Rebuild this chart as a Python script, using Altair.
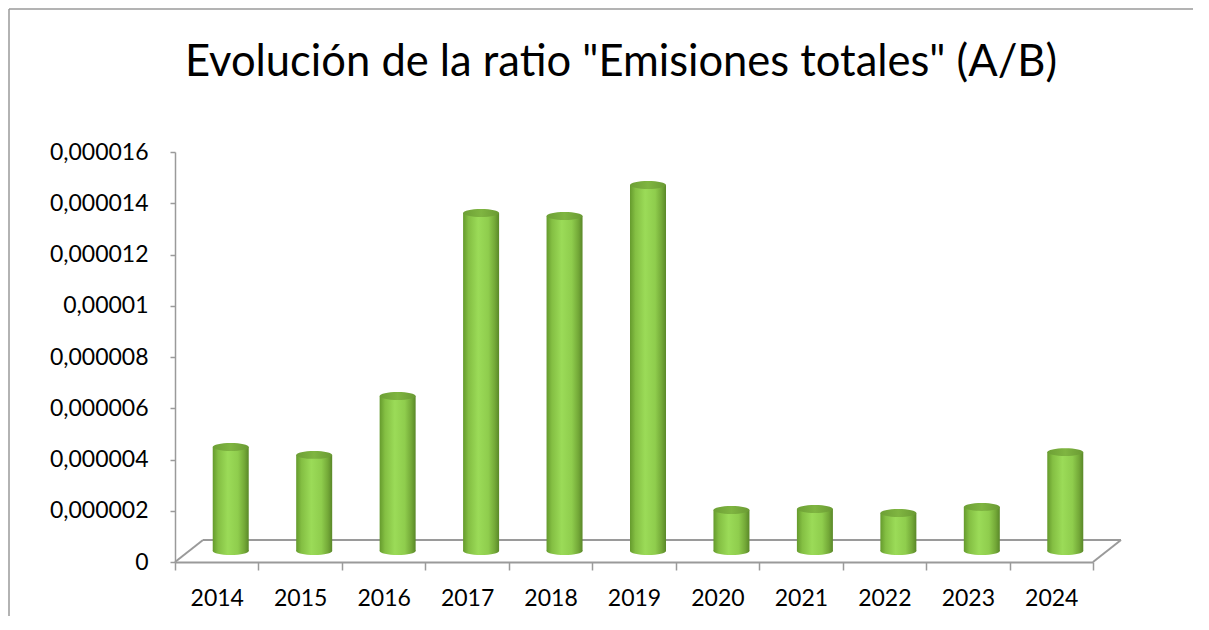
import altair as alt
import pandas as pd

# ---- data ----
years = ["2014", "2015", "2016", "2017", "2018", "2019", "2020", "2021", "2022", "2023", "2024"]
values = [4.06e-6, 3.75e-6, 6.05e-6, 13.19e-6, 13.07e-6, 14.28e-6,
          1.60e-6, 1.64e-6, 1.48e-6, 1.72e-6, 3.86e-6]
y_ticks = [0, 2e-6, 4e-6, 6e-6, 8e-6, 10e-6, 12e-6, 14e-6, 16e-6]
title_text = ['Evolución de la ratio "Emisiones totales" (A/B)']

df = pd.DataFrame({"year": years, "value": values})
one = pd.DataFrame({"k": [0]})

# ---- layout / style ----
W, H = 918, 410
DEPTH_X, DEPTH_Y = 28, 22      # 3D floor depth
MID_X, MID_Y = 14, 11          # bars sit in the middle of the floor depth
BAR_W = 36
FONT = "Lato"
GRAY = "#9a9a9a"

ELLIPSE = "M -1 0 A 1 0.22 0 1 1 1 0 A 1 0.22 0 1 1 -1 0 Z"

cyl = alt.Gradient(
    gradient="linear", x1=0, x2=1, y1=0, y2=0,
    stops=[
        alt.GradientStop(color="#659a2d", offset=0),
        alt.GradientStop(color="#84bf43", offset=0.15),
        alt.GradientStop(color="#9bdb58", offset=0.42),
        alt.GradientStop(color="#8fcd4d", offset=0.7),
        alt.GradientStop(color="#74a938", offset=0.88),
        alt.GradientStop(color="#5a8829", offset=1),
    ],
)
cap = alt.Gradient(
    gradient="linear", x1=0, x2=1, y1=0, y2=0,
    stops=[
        alt.GradientStop(color="#6d9f35", offset=0),
        alt.GradientStop(color="#7fb541", offset=0.5),
        alt.GradientStop(color="#6a9a33", offset=1),
    ],
)

x_axis = alt.Axis(
    title=None, labelAngle=0, tickBand="extent", tickSize=8,
    labelPadding=35, labelBaseline="alphabetic",
    labelFont=FONT, labelFontSize=23, labelColor="#000000",
    domainColor=GRAY, domainWidth=2, tickColor=GRAY, tickWidth=1.5,
)
y_axis = alt.Axis(
    title=None, values=y_ticks, grid=False, tickSize=5, labelPadding=22,
    labelExpr="replace(format(datum.value, '.6~f'), '.', ',')",
    labelFont=FONT, labelFontSize=23, labelColor="#000000",
    labelBaseline="middle",
    domainColor=GRAY, domainWidth=1.5, tickColor=GRAY, tickWidth=1.5,
)
x_scale = alt.Scale(paddingInner=0, paddingOuter=0)
y_scale = alt.Scale(domain=[0, 16e-6], nice=False, zero=True)

x_enc = alt.X("year:N", sort=years, scale=x_scale, axis=x_axis)
y_enc = alt.Y("value:Q", scale=y_scale, axis=y_axis)
zero_y = alt.Y(datum=0, type="quantitative", scale=y_scale, axis=y_axis)
zero_y2 = alt.Y2(datum=0)

# chart frame (top and left edges visible)
frame_top = alt.Chart(one).mark_rule(color=GRAY, strokeWidth=1.5).encode(
    x=alt.value(-166), x2=alt.value(W + 120), y=alt.value(-143))
frame_left = alt.Chart(one).mark_rule(color=GRAY, strokeWidth=1.5).encode(
    x=alt.value(-166), y=alt.value(-143), y2=alt.value(H + 70))

# 3D floor outline
floor_back = alt.Chart(one).mark_rule(color=GRAY, strokeWidth=2, yOffset=-DEPTH_Y).encode(
    x=alt.value(DEPTH_X), x2=alt.value(W + DEPTH_X), y=zero_y)
floor_left = alt.Chart(one).mark_rule(color=GRAY, strokeWidth=2, y2Offset=-DEPTH_Y).encode(
    x=alt.value(0), x2=alt.value(DEPTH_X), y=zero_y, y2=zero_y2)
floor_right = alt.Chart(one).mark_rule(color=GRAY, strokeWidth=2, y2Offset=-DEPTH_Y).encode(
    x=alt.value(W), x2=alt.value(W + DEPTH_X), y=zero_y, y2=zero_y2)

bars = alt.Chart(df).mark_bar(
    width=BAR_W, fill=cyl, xOffset=MID_X, yOffset=-MID_Y, y2Offset=-MID_Y
).encode(x=x_enc, y=y_enc, y2=zero_y2)

bottoms = alt.Chart(df).mark_point(
    shape=ELLIPSE, size=BAR_W * BAR_W, filled=True, fill=cyl, opacity=1,
    strokeWidth=0, xOffset=MID_X, yOffset=-MID_Y
).encode(x=x_enc, y=zero_y)

caps = alt.Chart(df).mark_point(
    shape=ELLIPSE, size=BAR_W * BAR_W, filled=True, fill=cap, opacity=1,
    strokeWidth=0, xOffset=MID_X, yOffset=-MID_Y
).encode(x=x_enc, y=y_enc)

title = alt.Chart(pd.DataFrame({"t": title_text})).mark_text(
    font=FONT, fontSize=43.5, align="center", baseline="alphabetic", color="#000000"
).encode(text="t:N", x=alt.value(446), y=alt.value(-76))

chart = alt.layer(
    frame_top, frame_left, floor_back, floor_left, floor_right,
    bars, bottoms, caps, title
).properties(
    width=W, height=H,
    autosize=alt.AutoSizeParams(type="none"),
    padding={"left": 167, "top": 144, "right": 100, "bottom": 54},
    background="#ffffff",
).configure_view(stroke=None)

chart.save("out.html", embed_options={"renderer": "svg", "actions": False})
